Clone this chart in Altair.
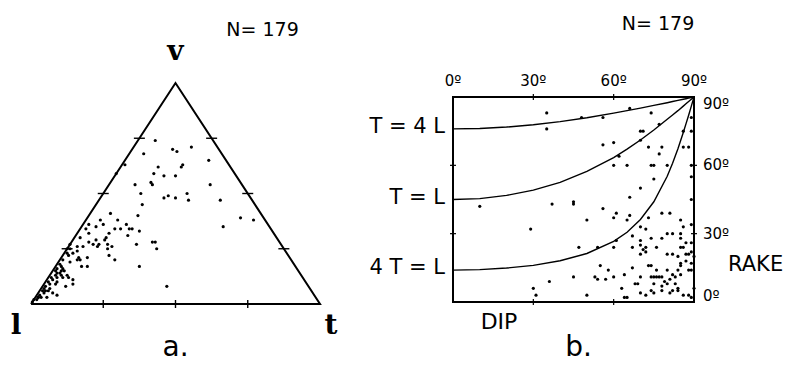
import altair as alt
import pandas as pd

# ---------------- data ----------------
# panel a: ternary diagram, components in percent (l = 100 - v - t)
tern_v = [74, 68, 70, 69, 71, 65, 62, 59, 58, 58, 62, 63, 63, 59, 54, 55, 54, 54, 50, 48,
          49, 48, 50, 47, 47, 45, 40, 41, 38, 36, 34, 33, 39, 35, 38, 38, 36, 36, 35, 34,
          32, 30, 34, 34, 31, 34, 32, 30, 28, 27, 26, 27, 29, 29, 27, 26, 26, 25, 23, 21,
          20, 21, 19, 20, 17, 15, 14, 13, 13, 12, 9, 12, 11, 9, 8, 9, 6, 6, 4, 3,
          3, 6, 5, 4, 3, 27, 28, 28, 25, 20, 22, 25, 26, 17, 17, 8, 17, 20, 27, 25,
          18, 15, 12, 8, 15, 16, 12, 10, 3, 2, 1, 23, 22, 24, 16, 14, 11, 10, 7, 5,
          2, 7, 13]
tern_t = [6, 5, 14, 16, 20, 29, 13, 13, 17, 21, 21, 21, 1, 0, 9, 14, 15, 35, 13, 22,
          23, 26, 29, 31, 42, 16, 17, 7, 11, 15, 18, 21, 53, 49, 58, 5, 7, 2, 5, 12,
          11, 11, 14, 17, 18, 2, 4, 2, 6, 8, 10, 10, 8, 11, 13, 3, 5, 1, 3, 6,
          7, 9, 4, 1, 2, 3, 3, 4, 6, 3, 4, 7, 9, 10, 8, 2, 2, 1, 1, 1,
          2, 3, 5, 7, 4, 23, 28, 29, 31, 19, 16, 14, 15, 11, 29, 43, 9, 6, 0, 0,
          1, 1, 1, 1, 4, 3, 5, 4, 1, 0, 0, 1, 2, 4, 1, 2, 2, 1, 1, 2,
          1, 3, 2]

# panel b: dip / rake (degrees)
b_dip = [35, 35, 48, 56, 66, 74, 56, 60, 70, 71, 77, 86, 89, 70, 73, 78, 77, 86, 62, 60,
         65, 74, 75, 80, 75, 70, 89, 66, 10, 37, 45, 45, 56, 61, 60, 66, 50, 65, 29, 73,
         78, 81, 85, 70, 72, 67, 70, 74, 78, 80, 82, 85, 85, 61, 47, 54, 60, 67, 70, 71,
         72, 76, 85, 86, 70, 72, 80, 82, 87, 88, 90, 85, 85, 87, 89, 73, 74, 67, 76, 80,
         88, 55, 58, 53, 54, 57, 60, 45, 36, 64, 70, 74, 75, 76, 77, 78, 79, 81, 82, 83,
         85, 68, 69, 75, 78, 80, 83, 84, 84, 63, 74, 75, 78, 81, 82, 30, 31, 50, 64, 65,
         70, 72, 86, 88, 89, 89, 89, 89, 89, 89, 89, 90, 87, 86, 84, 84, 89, 88]
b_rake = [83, 76, 81, 81, 85, 83, 69, 70, 75, 75, 78, 75, 75, 71, 68, 68, 65, 68, 64, 60,
          60, 60, 60, 60, 54, 50, 55, 46, 42, 43, 43, 44, 41, 39, 37, 38, 36, 36, 32, 37,
          39, 39, 36, 33, 32, 29, 27, 28, 28, 30, 30, 30, 28, 27, 24, 24, 24, 24, 25, 23,
          24, 24, 24, 24, 21, 22, 21, 21, 21, 21, 20, 17, 16, 18, 17, 16, 16, 15, 14, 14,
          14, 16, 14, 11, 10, 10, 11, 11, 9, 12, 11, 11, 11, 11, 11, 11, 9, 10, 12, 11,
          12, 8, 8, 8, 7, 8, 8, 6, 5, 6, 5, 4, 5, 4, 5, 6, 3, 3, 2, 2,
          4, 3, 3, 3, 2, 81, 45, 34, 26, 22, 14, 6, 26, 33, 20, 14, 60, 68]

# reference curves (rake against dip)
curve_dip = [0, 10, 20, 30, 40, 50, 60, 65, 70, 75, 80, 82, 84, 86, 87, 88, 89, 90]
curve_T4L = [76.0, 76.2, 76.8, 77.8, 79.2, 80.9, 82.9, 84.0, 85.1, 86.3, 87.5, 88.0, 88.5,
             89.0, 89.25, 89.5, 89.75, 90.0]
curve_TL = [45.0, 45.4, 46.8, 49.1, 52.5, 57.3, 63.4, 67.1, 71.1, 75.5, 80.2, 82.1, 84.0,
            86.0, 87.0, 88.0, 89.0, 90.0]
curve_4TL = [14.0, 14.2, 14.9, 16.1, 18.1, 21.3, 26.6, 30.6, 36.2, 44.0, 55.2, 60.9, 67.3,
             74.4, 78.2, 82.0, 86.0, 90.0]
curve_names = ["T = 4 L", "T = L", "4 T = L"]

tri_l = [100, 0, 0, 100]
tri_v = [0, 0, 100, 0]
tri_t = [0, 100, 0, 0]
tri_ticks = [25, 50, 75]
deg_ticks = [0, 30, 60, 90]
deg_labels = ["0º", "30º", "60º", "90º"]
n_text = "N= 179"

# ---------------- layout ----------------
W, H = 785, 357


def dom(p0, p1, v0, v1, lo, hi):
    k = (v1 - v0) / (p1 - p0)
    return [v0 + (lo - p0) * k, v0 + (hi - p0) * k]


AX = alt.Scale(domain=dom(23, 312, 0, 1, 0, W), nice=False, zero=False)
AY = alt.Scale(domain=dom(296, 75, 0, 1, H, 0), nice=False, zero=False)
BX = alt.Scale(domain=dom(445, 686, 0, 90, 0, W), nice=False, zero=False)
BY = alt.Scale(domain=dom(294, 89, 0, 90, H, 0), nice=False, zero=False)


def fx(f, s):
    return alt.X(f, type="quantitative", scale=s, axis=None)


def fy(f, s):
    return alt.Y(f, type="quantitative", scale=s, axis=None)


def dx_(v, s):
    return alt.XDatum(v, type="quantitative", scale=s, axis=None)


def dy_(v, s):
    return alt.YDatum(v, type="quantitative", scale=s, axis=None)


SANS = "DejaVu Sans"
SERIF = "DejaVu Serif"
TERN = {"px": "(datum.t + datum.v / 2) / 100", "py": "datum.v / 100"}

# ---------------- panel a ----------------
tri_df = pd.DataFrame({"l": tri_l, "v": tri_v, "t": tri_t, "i": list(range(len(tri_l)))})
tri = (alt.Chart(tri_df).transform_calculate(**TERN)
       .mark_line(color="black", strokeWidth=2)
       .encode(x=fx("px", AX), y=fy("py", AY), order="i:Q"))

base_df = pd.DataFrame({"v": [0] * 3, "t": tri_ticks})
side_df = pd.DataFrame({"v": tri_ticks + tri_ticks,
                        "t": [0] * 3 + [100 - f for f in tri_ticks]})
base_ticks = (alt.Chart(base_df).transform_calculate(**TERN)
              .mark_point(shape="stroke", angle=90, size=64, color="black", strokeWidth=1.4, opacity=1)
              .encode(x=fx("px", AX), y=fy("py", AY)))
side_ticks = (alt.Chart(side_df).transform_calculate(**TERN)
              .mark_point(shape="stroke", angle=0, size=121, color="black", strokeWidth=1.4, opacity=1)
              .encode(x=fx("px", AX), y=fy("py", AY)))

a_df = pd.DataFrame({"v": tern_v, "t": tern_t})
a_df["l"] = 100 - a_df["v"] - a_df["t"]
a_pts = (alt.Chart(a_df).transform_calculate(**TERN)
         .mark_circle(size=10, color="black", opacity=1)
         .encode(x=fx("px", AX), y=fy("py", AY)))


def a_text(txt, x, y, dx, dy, font, size, weight="normal", baseline="middle"):
    return (alt.Chart(pd.DataFrame({"s": [txt]}))
            .mark_text(dx=dx, dy=dy, font=font, fontSize=size, fontWeight=weight,
                       color="black", align="center", baseline=baseline)
            .encode(x=dx_(x, AX), y=dy_(y, AY), text="s:N"))


panel_a = alt.layer(
    tri, base_ticks, side_ticks, a_pts,
    a_text("v", 0.5, 1, 0, -31, SERIF, 28, "bold"),
    a_text("l", 0, 0, -15, 22, SERIF, 28, "bold"),
    a_text("t", 1, 0, 11, 22, SERIF, 28, "bold"),
    a_text("a.", 0.5, 0, 0, 52, SANS, 28, baseline="alphabetic"),
    a_text(n_text, 0.5, 1, 87, -53, SANS, 19),
)

# ---------------- panel b ----------------
one = pd.DataFrame({"k": [0]})
box = (alt.Chart(one)
       .mark_rect(fillOpacity=0, stroke="black", strokeWidth=2)
       .encode(x=dx_(0, BX), x2=alt.X2Datum(90), y=dy_(0, BY), y2=alt.Y2Datum(90)))

curve_df = pd.DataFrame({
    "dip": curve_dip * 3,
    "rake": curve_T4L + curve_TL + curve_4TL,
    "curve": [curve_names[0]] * len(curve_dip) + [curve_names[1]] * len(curve_dip)
             + [curve_names[2]] * len(curve_dip),
})
curves = (alt.Chart(curve_df)
          .mark_line(color="black", strokeWidth=1.4)
          .encode(x=fx("dip", BX), y=fy("rake", BY), detail="curve:N", order="dip:Q"))

b_df = pd.DataFrame({"dip": b_dip, "rake": b_rake})
b_pts = (alt.Chart(b_df).mark_circle(size=10, color="black", opacity=1)
         .encode(x=fx("dip", BX), y=fy("rake", BY)))

inner = [30, 60]
tick_df = pd.DataFrame({"d": inner})
edge_ticks = [
    alt.Chart(tick_df).mark_point(shape="stroke", angle=90, size=36, color="black", strokeWidth=1.2, opacity=1)
    .encode(x=fx("d", BX), y=dy_(0, BY)),
    alt.Chart(tick_df).mark_point(shape="stroke", angle=90, size=36, color="black", strokeWidth=1.2, opacity=1)
    .encode(x=fx("d", BX), y=dy_(90, BY)),
    alt.Chart(tick_df).mark_point(shape="stroke", angle=0, size=36, color="black", strokeWidth=1.2, opacity=1)
    .encode(x=dx_(0, BX), y=fy("d", BY)),
    alt.Chart(tick_df).mark_point(shape="stroke", angle=0, size=36, color="black", strokeWidth=1.2, opacity=1)
    .encode(x=dx_(90, BX), y=fy("d", BY)),
]

lab_df = pd.DataFrame({"d": deg_ticks, "s": deg_labels})
top_labels = (alt.Chart(lab_df)
              .mark_text(dy=-16, font=SANS, fontSize=15, color="black", align="center", baseline="middle")
              .encode(x=fx("d", BX), y=dy_(90, BY), text="s:N"))

right_shift = {90: 7, 60: 0, 30: 0, 0: -6}
right_labels = []
for d, s in zip(deg_ticks, deg_labels):
    right_labels.append(
        alt.Chart(pd.DataFrame({"d": [d], "s": [s]}))
        .mark_text(dx=9, dy=right_shift[d], font=SANS, fontSize=15, color="black",
                   align="left", baseline="middle")
        .encode(x=dx_(90, BX), y=fy("d", BY), text="s:N"))

curve_lab_df = pd.DataFrame({"s": curve_names,
                             "r": [curve_T4L[0], curve_TL[0], curve_4TL[0]]})
curve_labels = (alt.Chart(curve_lab_df)
                .mark_text(dx=-8, dy=-2, font=SANS, fontSize=21, color="black",
                           align="right", baseline="middle")
                .encode(x=dx_(0, BX), y=fy("r", BY), text="s:N"))


def b_text(txt, x, y, dx, dy, size, align="center", baseline="middle"):
    return (alt.Chart(pd.DataFrame({"s": [txt]}))
            .mark_text(dx=dx, dy=dy, font=SANS, fontSize=size, color="black",
                       align=align, baseline=baseline)
            .encode(x=dx_(x, BX), y=dy_(y, BY), text="s:N"))


panel_b = alt.layer(
    box, curves, b_pts, *edge_ticks, top_labels, *right_labels, curve_labels,
    b_text("DIP", 0, 0, 46, 20, 22),
    b_text("RAKE", 90, 0, 34, -37, 21, "left"),
    b_text("b.", 45, 0, 5, 54, 28, baseline="alphabetic"),
    b_text(n_text, 90, 90, -36, -73, 19),
)

chart = (alt.layer(panel_a, panel_b)
         .resolve_scale(x="independent", y="independent")
         .properties(width=W, height=H, autosize=alt.AutoSizeParams(type="none"), padding=0,
                     background="white")
         .configure_view(stroke=None))

chart.save("out.html", embed_options={"renderer": "svg", "actions": False})
